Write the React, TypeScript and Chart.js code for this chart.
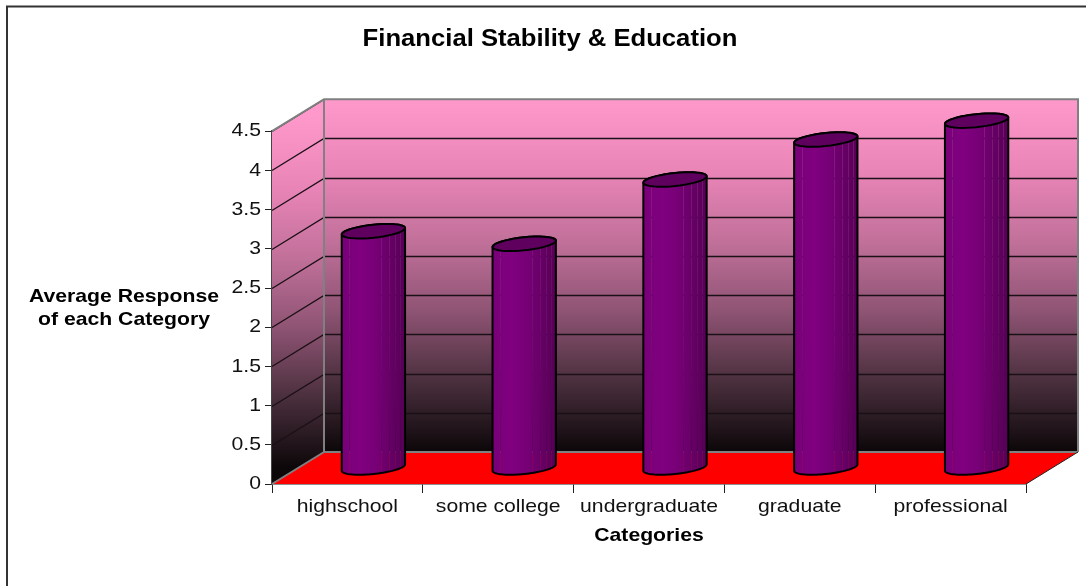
import React, { useEffect, useRef } from "react";
import { Chart, registerables } from "chart.js";

Chart.register(...registerables);

const categories = ["highschool", "some college", "undergraduate", "graduate", "professional"];
const responses = [3.02, 2.86, 3.68, 4.19, 4.43];
const yTicks = [0, 0.5, 1, 1.5, 2, 2.5, 3, 3.5, 4, 4.5];
const yTitleLines = ["Average Response", "of each Category"];
const seams = [0.13, 0.62, 0.75, 0.84, 0.92];
const shades: [number, number][] = [
  [0, 120], [0.3, 128], [0.55, 118], [0.8, 100], [1, 86],
];
const wallStops: [number, string][] = [
  [0, "#ff99cc"], [0.2, "#ea85b8"], [0.4, "#c2719b"], [0.6, "#8f5474"], [0.8, "#4a2f3d"], [1, "#0c0709"],
];

const FONT = "'Liberation Sans', Arial, sans-serif";
const TEXT_STRETCH = 1.115;
const DEPTH_X = 52;
const DEPTH_Y = 32;

function shadeAt(t: number) {
  for (let i = 1; i < shades.length; i++) {
    if (t <= shades[i][0]) {
      const [a, av] = shades[i - 1];
      const [b, bv] = shades[i];
      return av + ((t - a) / (b - a)) * (bv - av);
    }
  }
  return shades[shades.length - 1][1];
}

function wallGradient(ctx: CanvasRenderingContext2D, top: number, bottom: number) {
  const g = ctx.createLinearGradient(0, top, 0, bottom);
  wallStops.forEach(([f, c]) => g.addColorStop(f, c));
  return g;
}

const scene3d = {
  id: "scene3d",
  beforeDraw(chart: any) {
    // the reference's text is drawn slightly wider than its height
    const ctx = chart.ctx;
    if (ctx.__stretched) return;
    ctx.__stretched = true;
    const orig = ctx.fillText.bind(ctx);
    ctx.fillText = (t: string, x: number, y: number) => {
      ctx.save();
      ctx.translate(x, y);
      ctx.scale(TEXT_STRETCH, 1);
      orig(t, 0, 0);
      ctx.restore();
    };
  },
  beforeDatasetsDraw(chart: any) {
    const { ctx, chartArea: a, scales } = chart;
    const y = scales.y;
    ctx.save();
    // side wall
    ctx.beginPath();
    ctx.moveTo(a.left, a.top);
    ctx.lineTo(a.left + DEPTH_X, a.top - DEPTH_Y);
    ctx.lineTo(a.left + DEPTH_X, a.bottom - DEPTH_Y);
    ctx.lineTo(a.left, a.bottom);
    ctx.closePath();
    ctx.fillStyle = wallGradient(ctx, a.top - DEPTH_Y / 2, a.bottom - DEPTH_Y / 2);
    ctx.fill();
    // back wall
    ctx.fillStyle = wallGradient(ctx, a.top - DEPTH_Y, a.bottom - DEPTH_Y);
    ctx.fillRect(a.left + DEPTH_X, a.top - DEPTH_Y, a.right - a.left, a.bottom - a.top);
    // floor
    ctx.beginPath();
    ctx.moveTo(a.left, a.bottom);
    ctx.lineTo(a.right, a.bottom);
    ctx.lineTo(a.right + DEPTH_X, a.bottom - DEPTH_Y);
    ctx.lineTo(a.left + DEPTH_X, a.bottom - DEPTH_Y);
    ctx.closePath();
    ctx.fillStyle = "#ff0000";
    ctx.fill();
    // grid lines
    ctx.strokeStyle = "#1a1015";
    ctx.lineWidth = 1.3;
    yTicks.forEach((v) => {
      if (v === 0) return;
      const py = Math.round(y.getPixelForValue(v)) + 0.5;
      ctx.beginPath();
      ctx.moveTo(a.left, py);
      ctx.lineTo(a.left + DEPTH_X, py - DEPTH_Y);
      if (v !== 4.5) ctx.lineTo(a.right + DEPTH_X, py - DEPTH_Y);
      ctx.stroke();
    });
    // wall outlines
    ctx.strokeStyle = "#808080";
    ctx.lineWidth = 2;
    ctx.beginPath();
    ctx.moveTo(a.left, a.top);
    ctx.lineTo(a.left + DEPTH_X, a.top - DEPTH_Y);
    ctx.lineTo(a.right + DEPTH_X, a.top - DEPTH_Y);
    ctx.lineTo(a.right + DEPTH_X, a.bottom - DEPTH_Y);
    ctx.moveTo(a.left + DEPTH_X, a.top - DEPTH_Y);
    ctx.lineTo(a.left + DEPTH_X, a.bottom - DEPTH_Y);
    ctx.lineTo(a.left, a.bottom);
    ctx.moveTo(a.left + DEPTH_X, a.bottom - DEPTH_Y);
    ctx.lineTo(a.right + DEPTH_X, a.bottom - DEPTH_Y);
    ctx.stroke();
    // floor front-right edge
    ctx.strokeStyle = "#222";
    ctx.lineWidth = 1;
    ctx.beginPath();
    ctx.moveTo(a.right, a.bottom);
    ctx.lineTo(a.right + DEPTH_X, a.bottom - DEPTH_Y);
    ctx.stroke();
    ctx.restore();
  },
  afterDatasetsDraw(chart: any) {
    const { ctx } = chart;
    const meta = chart.getDatasetMeta(0);
    meta.data.forEach((bar: any) => {
      const cx = bar.x + DEPTH_X / 2;
      const topY = bar.y - DEPTH_Y / 2;
      const baseY = bar.base - DEPTH_Y / 2;
      const rx = bar.width / 2;
      const slant = 3.2;
      const ry = 6.5;
      const pt = (yc: number, t: number) => [cx + rx * Math.cos(t), yc - slant * Math.cos(t) - ry * Math.sin(t)];
      const trace = (yc: number, from: number, to: number, first: boolean) => {
        const n = 40;
        for (let i = 0; i <= n; i++) {
          const [px, py] = pt(yc, from + ((to - from) * i) / n);
          if (i === 0 && first) ctx.moveTo(px, py);
          else ctx.lineTo(px, py);
        }
      };
      ctx.save();
      const bodyPath = () => {
        ctx.beginPath();
        const [lx, ly] = pt(topY, Math.PI);
        ctx.moveTo(lx, ly);
        trace(baseY, Math.PI, 2 * Math.PI, false);
        trace(topY, 0, Math.PI, false);
        ctx.closePath();
      };
      ctx.save();
      bodyPath();
      ctx.clip();
      const left = Math.floor(cx - rx);
      const w = Math.ceil(rx * 2);
      for (let i = 0; i <= w; i++) {
        const t = i / w;
        const s = Math.round(shadeAt(t));
        const seam = seams.some((f) => Math.round(f * w) === i);
        ctx.fillStyle = `rgba(${s},0,${s},${seam ? 0.84 : 1})`;
        ctx.fillRect(left + i, topY - 12, 1, baseY - topY + 24);
      }
      ctx.restore();
      ctx.strokeStyle = "#000";
      ctx.lineWidth = 2;
      ctx.lineJoin = "round";
      bodyPath();
      ctx.stroke();
      // cap
      ctx.beginPath();
      trace(topY, 0, 2 * Math.PI, true);
      ctx.closePath();
      ctx.fillStyle = "#5f005f";
      ctx.fill();
      ctx.stroke();
      ctx.restore();
    });
  },
  afterDraw(chart: any) {
    const { ctx } = chart;
    ctx.save();
    ctx.strokeStyle = "#333";
    ctx.lineWidth = 2;
    ctx.beginPath();
    ctx.moveTo(7, 586);
    ctx.lineTo(7, 6.5);
    ctx.lineTo(1086, 6.5);
    ctx.stroke();
    ctx.fillStyle = "#000";
    ctx.font = `bold 19px ${FONT}`;
    ctx.textAlign = "center";
    ctx.textBaseline = "middle";
    yTitleLines.forEach((line, i) => ctx.fillText(line, 124, 297 + i * 23));
    ctx.restore();
  },
};

export default function App() {
  const ref = useRef<HTMLCanvasElement>(null);
  useEffect(() => {
    document.body.style.margin = "0";
    const chart = new Chart(ref.current!, {
      type: "bar",
      data: {
        labels: categories,
        datasets: [
          {
            label: "Average Response",
            data: responses,
            backgroundColor: "transparent",
            borderWidth: 0,
            barPercentage: 0.84,
            categoryPercentage: 0.5,
          },
        ],
      },
      options: {
        animation: false,
        responsive: false,
        layout: { padding: { left: 74, right: 60, top: 0, bottom: 39 } },
        plugins: {
          legend: { display: false },
          tooltip: { enabled: false },
          title: {
            display: true,
            text: "Financial Stability & Education",
            color: "#000",
            font: { family: FONT, size: 23, weight: "bold" },
            padding: { top: 26, bottom: 77.6 },
          },
        },
        scales: {
          x: {
            grid: {
              offset: true,
              drawOnChartArea: false,
              color: "#222",
              tickLength: 9,
              tickWidth: 1,
            },
            border: { color: "#222", width: 1.5 },
            ticks: { color: "#111", font: { family: FONT, size: 19 }, padding: 2, maxRotation: 0, autoSkip: false },
            title: {
              display: true,
              text: "Categories",
              color: "#000",
              font: { family: FONT, size: 19, weight: "bold" },
              padding: { top: 2, bottom: 0 },
            },
            afterFit(s: any) { s.height = 63; },
          },
          y: {
            min: 0,
            max: 4.5,
            afterBuildTicks(s: any) { s.ticks = yTicks.map((value) => ({ value })); },
            grid: { drawOnChartArea: false, color: "#222", tickLength: 7, tickWidth: 1 },
            border: { color: "#444", width: 2 },
            ticks: {
              color: "#111",
              font: { family: FONT, size: 19 },
              padding: 4,
              callback: (v: any) => String(v),
            },
            afterFit(s: any) { s.width = 198; },
          },
        },
      } as any,
      plugins: [scene3d],
    });
    return () => chart.destroy();
  }, []);
  return <canvas ref={ref} width={1086} height={586} style={{ display: "block" }} />;
}
